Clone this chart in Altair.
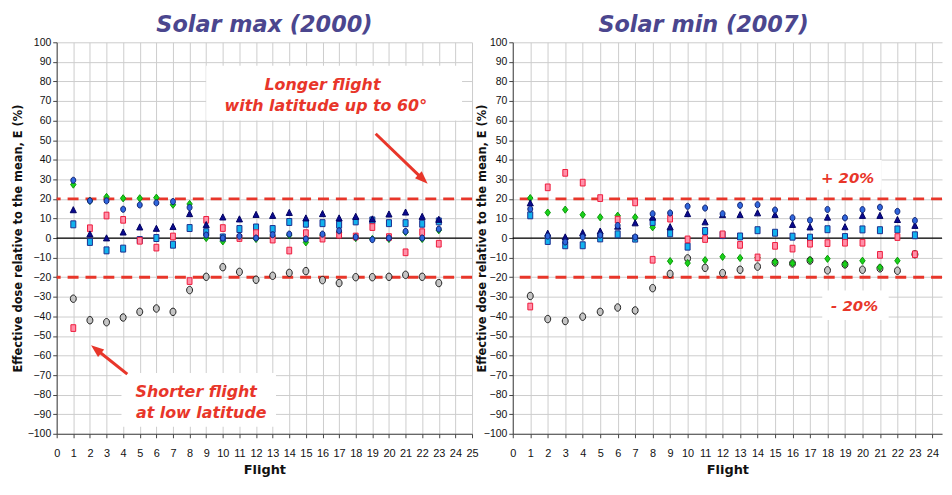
import altair as alt
import pandas as pd

flights = list(range(1, 24))

# ---- Solar max (2000) ----
max_circle = [29.5, 19, 19, 14.7, 16.9, 18, 18.6, 15.6, 1.5, 0, 1, 0, 1.7, 2, -0.5, 2, 3.7, 0.5, -0.8, 0, 3.4, 0, 4.6]
max_triangle = [14.4, 2, 0, 3, 5.6, 4.9, 5.8, 12.4, 6.8, 10.7, 9.7, 12, 11.5, 13, 10.2, 12.4, 10.2, 11, 9.7, 12.2, 13.2, 11, 9.5]
max_cyan = [7, -2, -6.3, -5.4, -1, 0, -3.4, 5.1, 3, 0.3, 4.6, 5.4, 4.6, 8.2, 7.3, 7.6, 6.8, 8.5, 9, 7.6, 7.6, 7.3, 8.5]
max_pink = [-46, 5, 11.5, 9.3, -1.4, -4.9, 0.8, -22, 9.3, 5.1, 0, 2.5, -0.8, -6.4, 2.5, -0.3, 1.7, 0.8, 5.6, 0.5, -7.3, 3, -2.9]
max_green = [27.3, 19, 21, 20.3, 20.3, 20.6, 17, 17.4, 0, -1.7, 0, -0.5, 1, 1.5, -2.2, 1.5, 3, 0, -0.5, -0.5, 3, -0.5, 4]
max_gray = [-31, -42, -43, -40.6, -37.7, -36, -37.7, -26.6, -19.8, -14.9, -17.3, -21.3, -19.3, -17.8, -16.9, -21.5, -23, -20, -20, -19.8, -18.8, -19.8, -23]

# ---- Solar min (2007) ----
min_circle = [14.8, 1, -2, 0.5, 1.5, 6.4, 0.5, 12.4, 12.8, 16.2, 15.3, 12.4, 16.7, 17, 14.3, 10.3, 9.1, 14.6, 10.3, 14.5, 15.7, 13.6, 8.9]
min_triangle = [17.9, 2.4, 0.5, 2.7, 3.5, 6, 7.7, 10.6, 5.7, 12.4, 8.2, 11.9, 11.9, 12.8, 11.9, 6.9, 5.6, 10.6, 5.7, 11.5, 11.5, 9.4, 6.4]
min_cyan = [11.6, -1.5, -3.7, -3.7, -0.2, 1.9, -0.3, 8.2, 2.4, -4.4, 3.6, 1.5, 0.8, 4, 2.7, 0.7, 0.2, 4.5, 0.5, 4.4, 4, 4.4, 1.4]
min_pink = [-35, 25.9, 33.3, 28.3, 20.4, 9.4, 18.2, -11.1, 9.9, -0.7, -0.5, 1.9, -3.5, -9.9, -4, -5.4, -2.9, -2.6, -2.4, -2.4, -8.6, 0.5, -8.3]
min_green = [20.4, 13, 14.5, 11.9, 10.6, 11.4, 10.6, 5.5, -11.8, -12.8, -11.3, -9.6, -10.2, -10, -12.3, -12.9, -11.3, -10.6, -13.4, -11.6, -15, -11.6, -8.3]
min_gray = [-29.6, -41.4, -42.4, -40.2, -37.7, -35.5, -37, -25.6, -18.3, -10.4, -15.2, -17.9, -16.2, -14.6, -12.5, -13, -11.5, -16.5, -13.5, -16.2, -15.5, -16.7, -8.3]

x_ticks_left = list(range(0, 26))
x_ticks_right = list(range(0, 25))
y_ticks = list(range(-100, 101, 10))
limits = [20, -20]

# annotation texts
left_notes = ["Longer flight", "with latitude up to 60°", "Shorter flight", "at low latitude"]
right_notes = ["+ 20%", "- 20%"]

series_order = ["gray", "green", "cyan", "pink", "triangle", "circle"]
shape_paths = {
    "gray": "M-0.8,0 A0.8,1 0 1,1 0.8,0 A0.8,1 0 1,1 -0.8,0 Z",
    "green": "M0,-1 L0.75,0 L0,1 L-0.75,0 Z",
    "cyan": "M-0.72,-1 L0.72,-1 L0.72,1 L-0.72,1 Z",
    "pink": "M-0.72,-1 L0.72,-1 L0.72,1 L-0.72,1 Z",
    "triangle": "M0,-1 L0.95,0.9 L-0.95,0.9 Z",
    "circle": "M-0.8,0 A0.8,1 0 1,1 0.8,0 A0.8,1 0 1,1 -0.8,0 Z",
}
fills = {"gray": "#c4c4c4", "green": "#1ad21a", "cyan": "#12b2ee", "pink": "#ff8fa8",
         "triangle": "#0a0a8e", "circle": "#2f66dc"}
strokes = {"gray": "#1e1e1e", "green": "#0a960a", "cyan": "#1c2f8f", "pink": "#ee1c3c",
           "triangle": "#000060", "circle": "#0d1f6e"}
sizes = {"gray": 56, "green": 38, "cyan": 72, "pink": 72, "triangle": 56, "circle": 60}

RED = "#e8362a"
LABEL_FONT = "Liberation Sans"


def long_df(d):
    rows = []
    for order, s in enumerate(series_order):
        for f, v in zip(flights, d[s]):
            rows.append({"flight": f, "value": v, "series": s, "order": order})
    return pd.DataFrame(rows)


df_max = long_df({"circle": max_circle, "triangle": max_triangle, "cyan": max_cyan,
                  "pink": max_pink, "green": max_green, "gray": max_gray})
df_min = long_df({"circle": min_circle, "triangle": min_triangle, "cyan": min_cyan,
                  "pink": min_pink, "green": min_green, "gray": min_gray})

YTITLE = "Effective dose relative to the mean, E (%)"


def panel(df, title, xmax, xticks, width, title_dx, ytitle_x, boxes, texts, arrows):
    xs = alt.Scale(domain=[0, xmax], nice=False, zero=False)
    ys = alt.Scale(domain=[-100, 100], nice=False)
    xax = alt.Axis(values=xticks, grid=True, title="Flight", tickSize=4, labelPadding=10,
                   labelFont=LABEL_FONT, labelFontSize=11, labelColor="#111",
                   titleFont="DejaVu Sans", titleFontSize=13, titleFontWeight="bold",
                   titlePadding=5, titleColor="#111", labelFlush=False, labelOverlap=False)
    yax = alt.Axis(values=y_ticks, grid=True, title=YTITLE, tickSize=4, labelPadding=2,
                   labelFont=LABEL_FONT, labelFontSize=10.5, labelColor="#111",
                   titleFont="DejaVu Sans", titleFontSize=11.5, titleFontWeight="bold",
                   titleX=ytitle_x, titleColor="#111", labelFlush=False, labelOverlap=False)

    def X(f):
        return alt.X(f, scale=xs, axis=xax)

    def Y(f):
        return alt.Y(f, scale=ys, axis=yax)

    base = alt.Chart(df).mark_point(filled=True, opacity=1, strokeWidth=1).encode(
        x=X("flight:Q"),
        y=Y("value:Q"),
        shape=alt.Shape("series:N", scale=alt.Scale(domain=series_order,
                        range=[shape_paths[s] for s in series_order]), legend=None),
        fill=alt.Fill("series:N", scale=alt.Scale(domain=series_order,
                      range=[fills[s] for s in series_order]), legend=None),
        stroke=alt.Stroke("series:N", scale=alt.Scale(domain=series_order,
                          range=[strokes[s] for s in series_order]), legend=None),
        size=alt.Size("series:N", scale=alt.Scale(domain=series_order,
                      range=[sizes[s] for s in series_order]), legend=None),
        order=alt.Order("order:Q"),
    )

    zero = alt.Chart(pd.DataFrame({"y": [0]})).mark_rule(color="#000", strokeWidth=1.2).encode(
        y=Y("y:Q"))
    dashes = alt.Chart(pd.DataFrame({"y": limits})).mark_rule(
        color=RED, strokeWidth=3, strokeDash=[11, 7]).encode(y=Y("y:Q"))

    layers = [base, zero, dashes]
    if boxes:
        bdf = pd.DataFrame(boxes, columns=["x", "x2", "y", "y2"])
        layers.append(alt.Chart(bdf).mark_rect(fill="white", stroke="white", strokeWidth=0).encode(
            x=X("x:Q"), x2="x2:Q", y=Y("y:Q"), y2="y2:Q"))
    if arrows:
        adf = pd.DataFrame(arrows, columns=["x", "y", "x2", "y2", "angle"])
        layers.append(alt.Chart(adf).mark_rule(color=RED, strokeWidth=3).encode(
            x=X("x:Q"), y=Y("y:Q"), x2="x2:Q", y2="y2:Q"))
        layers.append(alt.Chart(adf).mark_point(
            shape="M0,-1 L0.75,1 L-0.75,1 Z", filled=True, fill=RED, stroke=RED,
            opacity=1, size=170, strokeWidth=0).encode(
            x=X("x2:Q"), y=Y("y2:Q"), angle=alt.Angle("angle:Q", scale=None)))
    for t in texts:
        tdf = pd.DataFrame([t], columns=["x", "y", "text", "size"])
        layers.append(alt.Chart(tdf).mark_text(
            font="DejaVu Sans", fontStyle="italic", fontWeight="bold", color=RED,
            align="center", baseline="alphabetic").encode(
            x=X("x:Q"), y=Y("y:Q"), text="text:N",
            size=alt.Size("size:Q", scale=None)))

    # markers drawn last (on top); point layer listed first defines the axes
    layers = layers[1:] + [layers[0]]

    return alt.layer(*layers).properties(
        width=width, height=394,
        title=alt.TitleParams(title, font="DejaVu Sans", fontSize=22.5, fontStyle="italic",
                              fontWeight="bold", color="#4b468e", anchor="middle", dx=title_dx,
                              offset=1),
    )


left = panel(
    df_max, "Solar max (2000)", 25, x_ticks_left, 418, 0, -33,
    boxes=[[9.0, 24.4, 88.0, 60.0], [3.9, 13.2, -69.0, -96.4]],
    texts=[[16.0, 75.4, left_notes[0], 16], [16.2, 64.8, left_notes[1], 16],
           [8.4, -81.2, left_notes[2], 16], [8.7, -91.9, left_notes[3], 16]],
    arrows=[[19.2, 53.3, 22.05, 30.0, 134], [4.25, -69.5, 2.37, -56.8, 309]],
)
right = panel(
    df_min, "Solar min (2007)", 24.55, x_ticks_right, 432, -24, -25,
    boxes=[[17.1, 21.1, 39.9, 24.7], [17.7, 21.5, -26.8, -41.9]],
    texts=[[19.15, 28.3, right_notes[0], 15], [19.55, -37.4, right_notes[1], 15]],
    arrows=[],
)

chart = alt.hconcat(left, right, spacing=41, bounds="flush").properties(
    padding={"left": 5, "top": 4, "right": 0, "bottom": 0}
).configure_view(strokeWidth=0).configure_axis(
    domainColor="#444", tickColor="#444", gridColor="#cdcdcd", gridWidth=1, domainWidth=1
)

chart.save("out.html", embed_options={"renderer": "svg", "actions": False})
